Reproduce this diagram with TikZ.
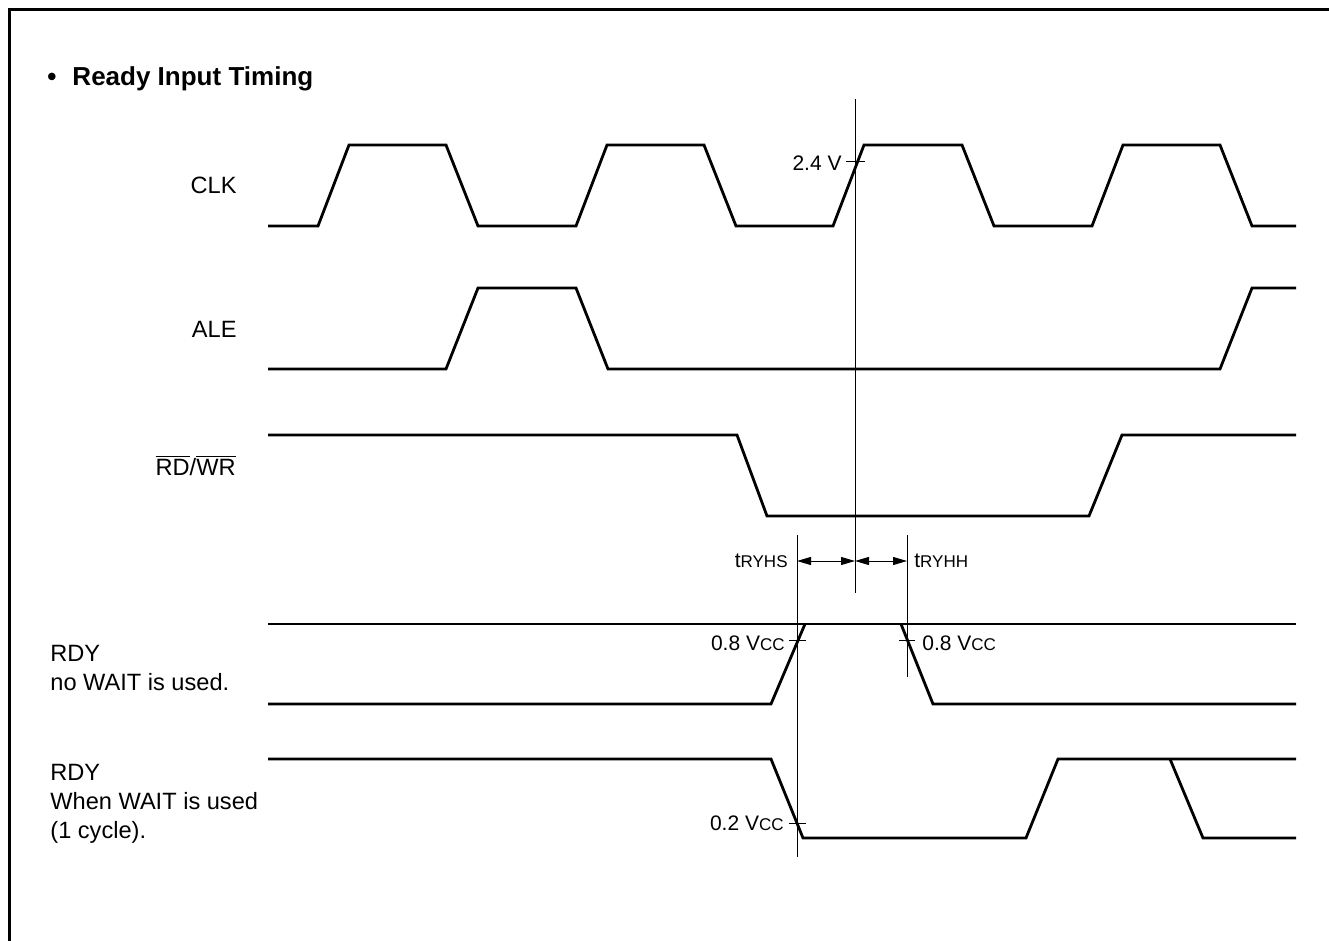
\documentclass[tikz,border=0pt]{standalone}
\usepackage{fontspec}
\setmainfont{Liberation Sans}
\usetikzlibrary{arrows.meta}
\newlength{\du}
\setlength{\du}{0.5pt}
\newcommand{\capsub}[1]{{\fontsize{8.5}{10}\selectfont #1}}
\tikzset{
  sigline/.style={line width=1.4pt, line join=miter},
  guideline/.style={line width=0.5pt},
  siglabel/.style={inner sep=0pt, font=\fontsize{11.8}{14}\selectfont},
  levellabel/.style={inner sep=0pt, font=\fontsize{10.5}{12}\selectfont},
  timespan/.style={guideline, {Triangle[length=7pt,width=4pt]}-{Triangle[length=7pt,width=4pt]}},
}

\begin{document}
\begin{tikzpicture}
\pgftransformxscale{1.000000}
\pgftransformyscale{-1.000000}
\definecolor{dialinecolor}{rgb}{0.000000, 0.000000, 0.000000}
\pgfsetstrokecolor{dialinecolor}
\useasboundingbox (0\du,0\du) rectangle (1329\du,941\du);
% frame
\draw[line width=1.5pt] (9\du,941\du)--(9\du,10\du)--(1340\du,10\du);
\node[anchor=base west, inner sep=0pt, font=\bfseries\fontsize{13}{15}\selectfont] (title) at (47\du,86\du){\textbullet\hspace{8pt}Ready Input Timing};
% signal names
\node[siglabel, anchor=base east] (clkname) at (237\du,194\du){CLK};
\node[siglabel, anchor=base east] (alename) at (237\du,338\du){ALE};
\node[siglabel, anchor=base east] (rdwrname) at (236\du,475\du){$\overline{\mbox{RD}}$/$\overline{\mbox{WR}}$};
\node[siglabel, anchor=base west] (rdyname) at (50\du,661\du){RDY};
\node[siglabel, anchor=base west] (rdynote) at (50\du,690\du){no WAIT is used.};
\node[siglabel, anchor=base west] (rdywname) at (50\du,780\du){RDY};
\node[siglabel, anchor=base west] (rdywnote) at (50\du,809\du){When WAIT is used};
\node[siglabel, anchor=base west] (rdywcycle) at (50\du,838\du){(1 cycle).};
% waveforms
\draw[sigline] (268\du,226\du)--(318\du,226\du)--(349\du,145\du)--(446\du,145\du)--(478\du,226\du)--(576\du,226\du)--(607\du,145\du)--(704\du,145\du)--(736\du,226\du)--(833\du,226\du)--(864\du,145\du)--(962\du,145\du)--(994\du,226\du)--(1092\du,226\du)--(1123\du,145\du)--(1220\du,145\du)--(1252\du,226\du)--(1296\du,226\du);
\draw[sigline] (268\du,369\du)--(446\du,369\du)--(478\du,288\du)--(576\du,288\du)--(608\du,369\du)--(1220\du,369\du)--(1252\du,288\du)--(1296\du,288\du);
\draw[sigline] (268\du,435\du)--(737\du,435\du)--(767\du,516\du)--(1089\du,516\du)--(1122\du,435\du)--(1296\du,435\du);
\draw[sigline] (268\du,624\du)--(1296\du,624\du);
\draw[sigline] (268\du,704\du)--(771\du,704\du)--(805\du,624\du);
\draw[sigline] (901\du,624\du)--(933\du,704\du)--(1296\du,704\du);
\draw[sigline] (268\du,759\du)--(771\du,759\du)--(803\du,838\du)--(1026\du,838\du)--(1058\du,759\du)--(1296\du,759\du);
\draw[sigline] (1170\du,759\du)--(1203\du,838\du)--(1296\du,838\du);
% reference lines
\coordinate (clkref top) at (855\du,99\du);
\coordinate (clkref bot) at (855\du,593\du);
\coordinate (setup top) at (797\du,535\du);
\coordinate (setup bot) at (797\du,857\du);
\coordinate (hold top) at (907\du,535\du);
\coordinate (hold bot) at (907\du,677\du);
\draw[guideline] (clkref top)--(clkref bot);
\draw[guideline] (setup top)--(setup bot);
\draw[guideline] (hold top)--(hold bot);
% level ticks
\draw[guideline] (846\du,162\du)--(865\du,162\du);
\draw[guideline] (789\du,640\du)--(806\du,640\du);
\draw[guideline] (899\du,640\du)--(915\du,640\du);
\draw[guideline] (789\du,823\du)--(806\du,823\du);
\node[levellabel, anchor=base east] (clklevel) at (842\du,171\du){2.4 V};
\node[levellabel, anchor=base east] (rdyhigh) at (785\du,650\du){0.8 V\capsub{CC}};
\node[levellabel, anchor=base west] (rdyhold) at (922\du,650\du){0.8 V\capsub{CC}};
\node[levellabel, anchor=base east] (rdylow) at (784\du,830\du){0.2 V\capsub{CC}};
% setup / hold
\coordinate (tsA) at (797\du,561\du);
\coordinate (tsB) at (855\du,561\du);
\coordinate (tsC) at (907\du,561\du);
\draw[timespan] (tsA)--(tsB);
\draw[timespan] (tsB)--(tsC);
\node[levellabel, anchor=base east] (tryhs) at (788\du,567\du){t\capsub{RYHS}};
\node[levellabel, anchor=base west] (tryhh) at (914\du,567\du){t\capsub{RYHH}};
\end{tikzpicture}
\end{document}
